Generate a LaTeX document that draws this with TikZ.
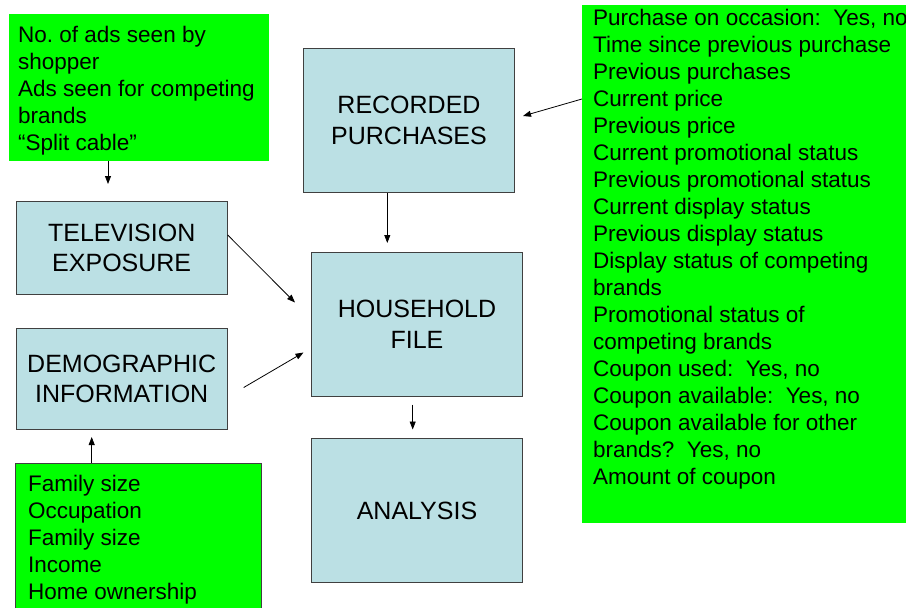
\documentclass[tikz,border=0pt]{standalone}
\usepackage{fontspec}
\setmainfont{Liberation Sans}
\usetikzlibrary{arrows.meta,calc}
\definecolor{grn}{HTML}{00FF00}
\definecolor{blu}{HTML}{BBE0E4}
\definecolor{bdr}{HTML}{404040}
\frenchspacing
\begin{document}
\begin{tikzpicture}[x=1pt,y=-1pt,
  bluebox/.style={draw=bdr, line width=1pt, fill=blu, align=center,
    font=\fontsize{25}{30.5}\selectfont, inner sep=0pt, anchor=north west},
  greenbox/.style={fill=grn, inner sep=0pt, anchor=north west},
  greentext/.style={align=left, anchor=north west, inner sep=0pt,
    font=\fontsize{22.5}{27}\selectfont},
  arr/.style={-{Triangle[length=8pt,width=6pt]}, line width=0.8pt, black}]
\useasboundingbox (0,0) rectangle (906,608);
% green boxes
\node[greenbox, minimum width=260pt, minimum height=147pt] (tl) at (9,14) {};
\node[greentext] (tltxt) at (18,25.6) {No. of ads seen by\\shopper\\Ads seen for competing\\brands\\“Split cable”};
\node[greenbox, minimum width=330pt, minimum height=518pt] (rg) at (582,5) {};
\node[greentext] (rgtxt) at (593,8.6) {Purchase on occasion:\ \ Yes, no\\Time since previous purchase\\Previous purchases\\Current price\\Previous price\\Current promotional status\\Previous promotional status\\Current display status\\Previous display status\\Display status of competing\\brands\\Promotional status of\\competing brands\\Coupon used:\ \ Yes, no\\Coupon available:\ \ Yes, no\\Coupon available for other\\brands?\ \ Yes, no\\Amount of coupon};
\node[greenbox, draw=bdr, line width=1pt, minimum width=246pt, minimum height=150pt] (bl) at (15,463) {};
\node[greentext] (bltxt) at (28,474.6) {Family size\\Occupation\\Family size\\Income\\Home ownership};
% blue boxes
\node[bluebox, minimum width=211pt, minimum height=144pt] (rp) at (303,48) {RECORDED\\PURCHASES};
\node[bluebox, minimum width=211pt, minimum height=93pt] (tv) at (15.7,201) {TELEVISION\\EXPOSURE};
\node[bluebox, minimum width=211pt, minimum height=101pt] (dm) at (15.7,328) {DEMOGRAPHIC\\INFORMATION};
\node[bluebox, minimum width=211pt, minimum height=144pt] (hh) at (311,251.7) {HOUSEHOLD\\FILE};
\node[bluebox, minimum width=211pt, minimum height=144.5pt] (an) at (311,437.7) {ANALYSIS};
% connector ends
\coordinate (e1) at (108,184);
\coordinate (e2) at (387.3,243);
\coordinate (s3) at (582,99);
\coordinate (e3) at (523,116);
\coordinate (s4) at (227,235);
\coordinate (e4) at (295,302.5);
\coordinate (e5) at (303.5,352.5);
\coordinate (e6) at (412.7,429.5);
\coordinate (e7) at (91.7,437);
% connectors
\draw[arr] (tl.south -| e1) -- (e1);
\draw[arr] (rp.south -| e2) -- (e2);
\draw[arr] (rg.west |- s3) -- (e3);
\draw[arr] (tv.east |- s4) -- (e4);
\draw[arr] ($(dm.east)+(16,8.5)$) -- (e5);
\draw[arr] ($(hh.south -| e6)+(0,8)$) -- (e6);
\draw[arr] (bl.north -| e7) -- (e7);
\end{tikzpicture}
\end{document}
